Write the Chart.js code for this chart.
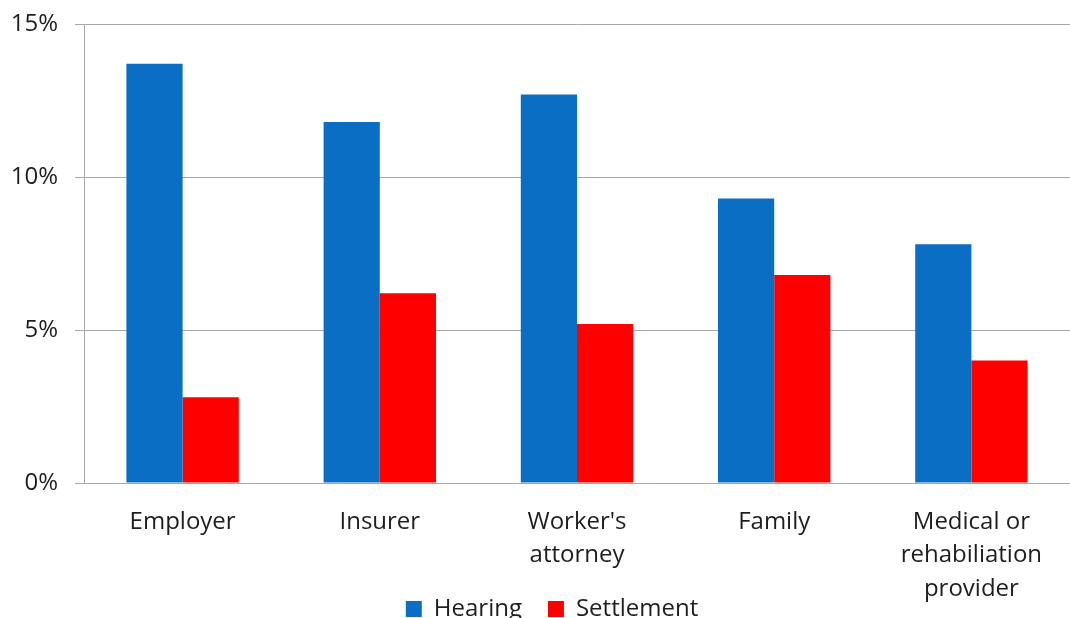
<!DOCTYPE html>
<html>
<head>
<meta charset="utf-8">
<script src="https://cdn.jsdelivr.net/npm/chart.js@4"></script>
<style>
  html, body { margin: 0; padding: 0; background: #fff; overflow: hidden; }
  #wrap { width: 1070px; height: 663px; }
</style>
</head>
<body>
<div id="wrap"><canvas id="chart"></canvas></div>
<script>
// categorias e valores (percentuais)
const categorias = ['Employer', 'Insurer', ["Worker's", 'attorney'], 'Family', ['Medical or', 'rehabiliation', 'provider']];
const hearing = [13.7, 11.8, 12.7, 9.3, 7.8];
const settlement = [2.8, 6.2, 5.2, 6.8, 4.0];
const yTicks = [0, 5, 10, 15];

const fonte = '"Open Sans", Calibri, sans-serif';
const corTexto = '#1e1e1e';
const corGrade = '#a8a8a8';

// sobe a legenda para ficar ao lado da última linha dos rótulos
const moverLegenda = {
    id: 'moverLegenda',
    beforeDraw(chart) {
        const leg = chart.legend;
        if (!leg || leg._movida) return;
        leg.top -= 32;
        leg.bottom -= 32;
        leg.left += 17;
        leg.right += 17;
        leg._movida = true;
    }
};

const ctx = document.getElementById('chart').getContext('2d');

new Chart(ctx, {
    type: 'bar',
    data: {
        labels: categorias,
        datasets: [{
            label: 'Hearing',
            data: hearing,
            backgroundColor: '#0B6EC5',
        }, {
            label: 'Settlement',
            data: settlement,
            backgroundColor: '#FF0000',
        }]
    },
    plugins: [moverLegenda],
    options: {
        responsive: true,
        maintainAspectRatio: false,
        animation: false,
        layout: { padding: { top: 24, right: 0, left: 0, bottom: 0 } },
        datasets: { bar: { categoryPercentage: 0.57, barPercentage: 1.0 } },
        plugins: {
            tooltip: { enabled: false },
            legend: {
                position: 'bottom',
                labels: {
                    font: { family: fonte, size: 24 },
                    color: corTexto,
                    boxWidth: 16,
                    boxHeight: 16,
                    padding: 26
                }
            }
        },
        scales: {
            x: {
                grid: { display: false, drawTicks: false },
                border: { display: true, color: corGrade, width: 1 },
                ticks: {
                    font: { family: fonte, size: 24, lineHeight: 1.4 },
                    color: corTexto,
                    padding: 22,
                    maxRotation: 0,
                    autoSkip: false
                },
                afterFit: s => { s.height = 120; }
            },
            y: {
                min: 0,
                max: 15,
                afterBuildTicks: s => { s.ticks = yTicks.map(v => ({ value: v })); },
                grid: { color: corGrade, tickLength: 9, lineWidth: 1 },
                border: { display: true, color: corGrade, width: 1 },
                ticks: {
                    font: { family: fonte, size: 24 },
                    color: corTexto,
                    padding: 17,
                    callback: v => v + '%'
                },
                afterFit: s => { s.width = 84; s.paddingTop = 0; }
            }
        }
    }
});
</script>
</body>
</html>
